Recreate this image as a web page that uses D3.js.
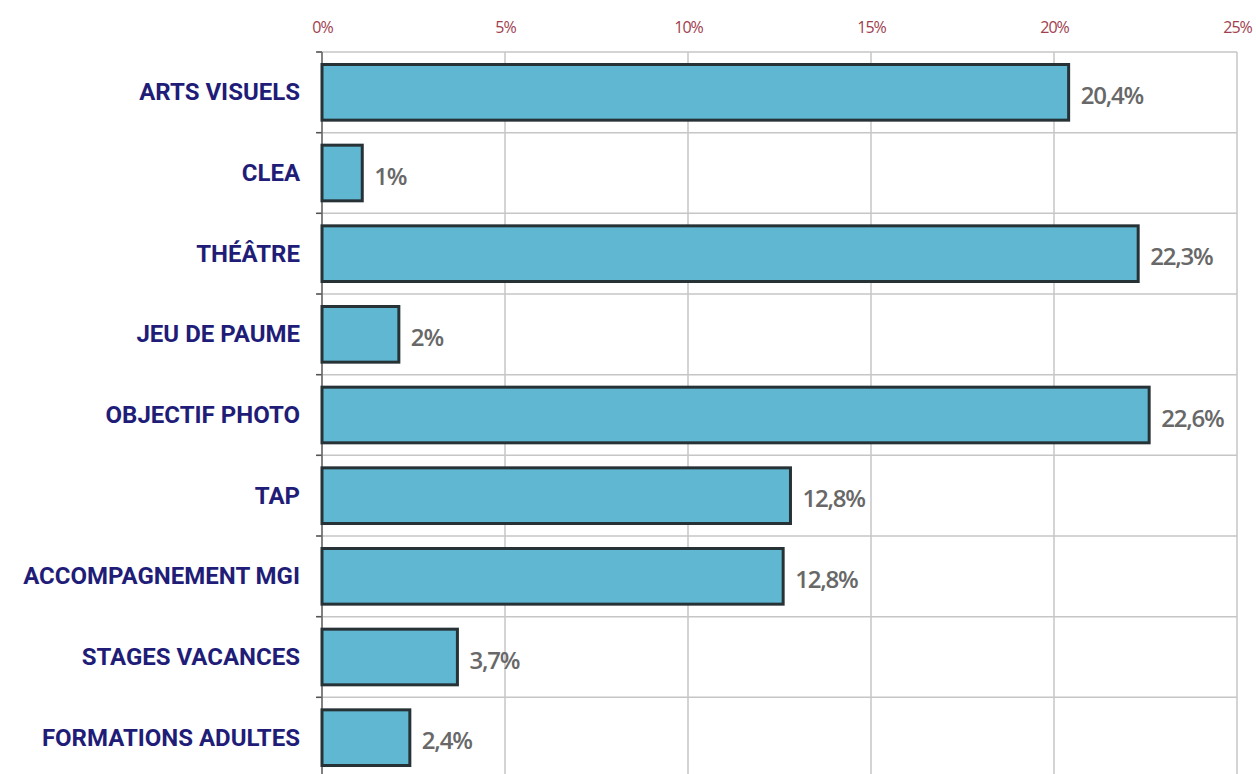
<!DOCTYPE html>
<html>
<head>
<meta charset="utf-8">
<script src="https://cdn.jsdelivr.net/npm/d3@7"></script>
<style>
  html, body { margin: 0; padding: 0; background: #fff; overflow: hidden; }
  .cat { font-family: Roboto, "Open Sans", sans-serif; font-weight: 700; fill: #1f1d78; }
  .val { font-family: "Open Sans", Roboto, sans-serif; font-weight: 600; fill: #686868; }
  .tick-top text { font-family: "Open Sans", Roboto, sans-serif; fill: #a0404e; }
</style>
</head>
<body>
<div id="chart"></div>
<script>
// categories, top to bottom
const categories = ["ARTS VISUELS", "CLEA", "THÉÂTRE", "JEU DE PAUME", "OBJECTIF PHOTO",
                    "TAP", "ACCOMPAGNEMENT MGI", "STAGES VACANCES", "FORMATIONS ADULTES"];
// bar lengths as drawn (percent)
const values = [20.4, 1.1, 22.3, 2.1, 22.6, 12.8, 12.6, 3.7, 2.4];
// printed value labels
const valueLabels = ["20,4%", "1%", "22,3%", "2%", "22,6%", "12,8%", "12,8%", "3,7%", "2,4%"];
// x axis ticks
const xTicks = [0, 5, 10, 15, 20, 25];
const xTickLabels = ["0%", "5%", "10%", "15%", "20%", "25%"];

const margin = {top: 52, left: 322},
      width = 915,
      height = 726;

const svg = d3.select("#chart").append("svg")
    .attr("width", 1256)
    .attr("height", 774)
  .append("g")
    .attr("transform", "translate(" + margin.left + "," + margin.top + ")");

const x = d3.scaleLinear().domain([0, 25]).range([0, width]);
const y = d3.scaleBand().domain(categories).range([0, height])
    .paddingInner(0.31).paddingOuter(0.155);

const step = y.step();

// vertical grid
svg.append("g")
  .selectAll("line")
  .data(xTicks)
  .enter().append("line")
    .attr("x1", d => x(d)).attr("x2", d => x(d))
    .attr("y1", 0).attr("y2", height)
    .attr("stroke", "#c6c6c6").attr("stroke-width", 1.5);

// horizontal row separators (plus top border)
const rowEdges = d3.range(categories.length + 1);
svg.append("g")
  .selectAll("line")
  .data(rowEdges)
  .enter().append("line")
    .attr("x1", -5).attr("x2", width)
    .attr("y1", d => d * step).attr("y2", d => d * step)
    .attr("stroke", "#c6c6c6").attr("stroke-width", 1.5);

// small tick marks on left axis
svg.append("g")
  .selectAll("line")
  .data(rowEdges)
  .enter().append("line")
    .attr("x1", -6).attr("x2", 0)
    .attr("y1", d => d * step).attr("y2", d => d * step)
    .attr("stroke", "#555").attr("stroke-width", 1.5);

// left axis line
svg.append("line")
    .attr("x1", 0).attr("x2", 0).attr("y1", 0).attr("y2", height)
    .attr("stroke", "#666").attr("stroke-width", 1.5);

// top axis labels
const topAxis = svg.append("g")
    .attr("class", "tick-top")
    .call(d3.axisTop(x).tickValues(xTicks).tickFormat((d, i) => xTickLabels[i]).tickSize(0).tickPadding(19));
topAxis.select(".domain").remove();
topAxis.selectAll("text").attr("font-size", 16).attr("letter-spacing", -1);

// bars
svg.selectAll(".bar")
  .data(categories)
  .enter().append("rect")
    .attr("class", "bar")
    .attr("x", 0)
    .attr("y", d => y(d))
    .attr("width", (d, i) => x(values[i]))
    .attr("height", y.bandwidth())
    .attr("fill", "#5fb7d1")
    .attr("stroke", "#263236")
    .attr("stroke-width", 3);

// category labels
svg.selectAll(".cat")
  .data(categories)
  .enter().append("text")
    .attr("class", "cat")
    .attr("text-anchor", "end")
    .attr("dominant-baseline", "central")
    .attr("font-size", 24)
    .attr("x", -22)
    .attr("y", d => y(d) + y.bandwidth() / 2)
    .text(d => d);

// value labels
svg.selectAll(".val")
  .data(categories)
  .enter().append("text")
    .attr("class", "val")
    .attr("x", (d, i) => x(values[i]) + 12)
    .attr("y", d => y(d) + y.bandwidth() / 2 + 2)
    .attr("dominant-baseline", "central")
    .attr("font-size", 24)
    .attr("letter-spacing", -1.2)
    .text((d, i) => valueLabels[i]);
</script>
</body>
</html>
